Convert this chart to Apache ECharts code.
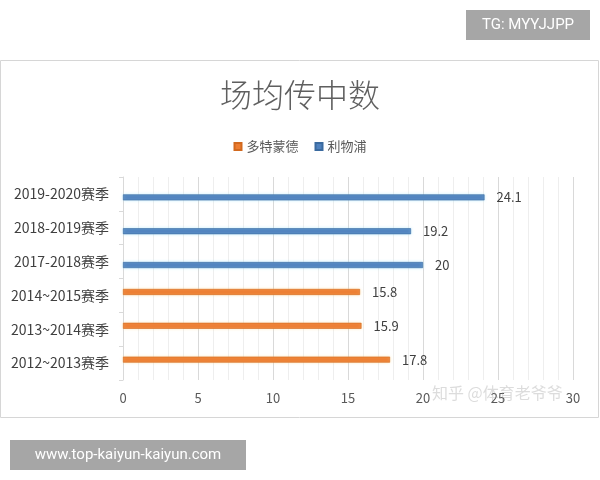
<!DOCTYPE html>
<html>
<head>
<meta charset="utf-8">
<script src="https://cdn.jsdelivr.net/npm/echarts@6/dist/echarts.min.js"></script>
<style>html,body{margin:0;padding:0;background:#fff;}#c{width:600px;height:480px;}</style>
</head>
<body>
<div id="c"></div>
<script>
var categories = ['2012~2013赛季','2013~2014赛季','2014~2015赛季','2017-2018赛季','2018-2019赛季','2019-2020赛季'];
var dortmund = [17.8, 15.9, 15.8, null, null, null];
var liverpool = [null, null, null, 20, 19.2, 24.1];
var xTicks = [0, 5, 10, 15, 20, 25, 30];

var chart = echarts.init(document.getElementById('c'));
var font = '"Noto Sans CJK SC", "Noto Sans", sans-serif';
chart.setOption({
  animation: false,
  backgroundColor: '#ffffff',
  textStyle: { fontFamily: font },
  title: {
    text: '场均传中数',
    left: 'center',
    top: 74,
    textStyle: { fontSize: 32, fontWeight: 300, color: '#5f5f5f', fontFamily: font }
  },
  legend: {
    top: 135,
    left: 'center',
    itemWidth: 7,
    itemHeight: 7,
    itemGap: 16,
    icon: 'rect',
    data: ['多特蒙德', '利物浦'],
    textStyle: { fontSize: 13, color: '#595959', fontFamily: font }
  },
  grid: { left: 123, right: 27, top: 177, bottom: 100, containLabel: false },
  xAxis: {
    type: 'value',
    min: xTicks[0],
    max: xTicks[xTicks.length - 1],
    interval: 5,
    axisLine: { show: false },
    axisTick: { show: false },
    axisLabel: { color: '#595959', fontSize: 13, margin: 12, fontFamily: font },
    splitLine: { show: true, lineStyle: { color: '#d9d9d9', width: 1 } },
    minorTick: { show: false, splitNumber: 5 },
    minorSplitLine: { show: true, lineStyle: { color: '#eeeeee', width: 1 } }
  },
  yAxis: {
    type: 'category',
    data: categories,
    axisLine: { show: true, lineStyle: { color: '#d9d9d9' } },
    axisTick: { show: true, length: 4, lineStyle: { color: '#d9d9d9' } },
    axisLabel: { color: '#404040', fontSize: 14, margin: 14, fontFamily: font }
  },
  series: [
    {
      name: '多特蒙德',
      type: 'bar',
      data: dortmund,
      barWidth: 6,
      barGap: '15%',
      itemStyle: { color: '#ED7D31', borderColor: '#D2691E', borderWidth: 0.6, shadowColor: 'rgba(255,220,150,0.6)', shadowBlur: 3 },
      label: { show: true, position: 'right', distance: 12, color: '#404040', fontSize: 13, fontFamily: font }
    },
    {
      name: '利物浦',
      type: 'bar',
      data: liverpool,
      barWidth: 6,
      barGap: '15%',
      itemStyle: { color: '#4F81BD', borderColor: '#3A6A9F', borderWidth: 0.6, shadowColor: 'rgba(170,230,255,0.7)', shadowBlur: 3 },
      label: { show: true, position: 'right', distance: 12, color: '#404040', fontSize: 13, fontFamily: font }
    }
  ],
  graphic: [
    { type: 'rect', shape: { x: 0.5, y: 60.5, width: 598, height: 357 }, style: { fill: 'none', stroke: '#d6d6d6', lineWidth: 1 }, z: -1 },
    { type: 'rect', shape: { x: 466, y: 10, width: 124, height: 30 }, style: { fill: '#a6a6a6' } },
    { type: 'text', x: 528, y: 25, style: { text: 'TG: MYYJJPP', fill: '#ffffff', font: '15px Roboto, "DejaVu Sans", sans-serif', align: 'center', verticalAlign: 'middle' } },
    { type: 'rect', shape: { x: 10, y: 440, width: 236, height: 30 }, style: { fill: '#a6a6a6' } },
    { type: 'text', x: 128, y: 455, style: { text: 'www.top-kaiyun-kaiyun.com', fill: '#ffffff', font: '15px Roboto, "DejaVu Sans", sans-serif', align: 'center', verticalAlign: 'middle' } },
    { type: 'text', x: 432, y: 393, z: 100, style: { text: '知乎 @体育老爷爷', fill: 'rgba(140,140,140,0.3)', font: '16px "Noto Sans CJK SC", sans-serif', verticalAlign: 'middle' } }
  ]
});
</script>
</body>
</html>
